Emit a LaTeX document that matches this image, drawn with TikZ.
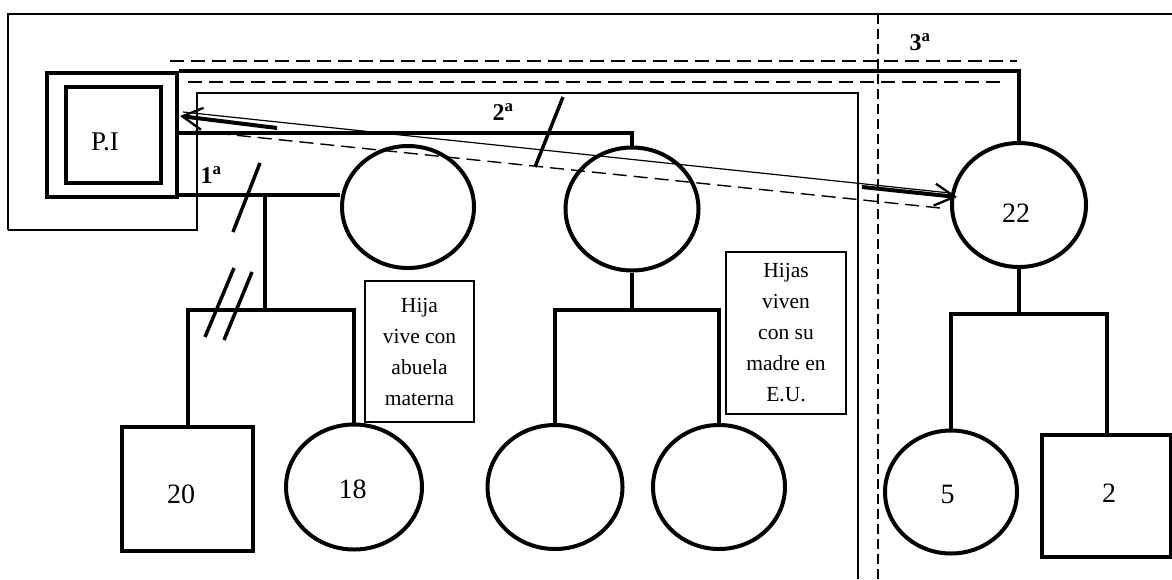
\documentclass[tikz,border=0pt]{standalone}
\usepackage{fontspec}
\setmainfont{Liberation Serif}
\usetikzlibrary{shapes.geometric,arrows.meta}
\begin{document}
\begin{tikzpicture}[x=1pt,y=-1pt,
  thickline/.style={line width=4pt},
  person/.style={draw,line width=4pt,inner sep=0pt},
  fem/.style={person,ellipse},
  male/.style={person,rectangle},
  frame/.style={line width=1.2pt},
  dashline/.style={line width=1.4pt,dash pattern=on 14pt off 7pt},
  vdash/.style={line width=1.4pt,dash pattern=on 10pt off 5pt},
  slash/.style={line width=3.5pt},
  note/.style={draw,line width=1.2pt,align=center,inner sep=0pt,font=\fontsize{21.5}{31}\selectfont},
  num/.style={font=\fontsize{28}{30}\selectfont,inner sep=0pt},
  ord/.style={font=\fontsize{24}{26}\selectfont\bfseries,inner sep=0pt},
  arr/.style={line width=4pt,-{Straight Barb[length=20pt,width=22pt,line width=2.3pt]}},
]
\useasboundingbox (0,0) rectangle (1172,579);
\fill[white] (0,0) rectangle (1172,579);

% frames
\draw[frame] (8,230) -- (8,14) -- (1172,14);
\draw[frame] (8,230) -- (197,230) -- (197,93) -- (858,93) -- (858,579);
\draw[vdash] (878,14) -- (878,579);
\draw[dashline] (170,61) -- (1017,61);
\draw[dashline] (188,82) -- (1005,82);

% persons
\node[male,minimum width=130pt,minimum height=124pt] (PIo) at (112,135) {};
\node[male,minimum width=95pt,minimum height=96pt] (PIi) at (113.5,135) {};
\node[num,font=\fontsize{27}{29}\selectfont] (PIt) at (105,142) {P.I};

\node[fem,minimum width=132pt,minimum height=122pt] (c1) at (408,207) {};
\node[fem,minimum width=133pt,minimum height=123pt] (c2) at (632,209) {};
\node[fem,minimum width=134pt,minimum height=124pt] (c22) at (1019,205) {};
\node[num] (t22) at (1016,213) {22};

\node[male,minimum width=131pt,minimum height=124pt] (s20) at (187.5,489) {};
\node[num] (t20) at (181,494) {20};
\node[fem,minimum width=136pt,minimum height=125pt] (c18) at (354,487) {};
\node[num] (t18) at (352.5,489) {18};
\node[fem,minimum width=135pt,minimum height=124pt] (c3) at (555,487) {};
\node[fem,minimum width=132pt,minimum height=124pt] (c4) at (719,487) {};
\node[fem,minimum width=132pt,minimum height=123pt] (c5) at (951,492) {};
\node[num] (t5) at (947.5,494) {5};
\node[male,minimum width=129pt,minimum height=122pt] (s2) at (1106.5,496) {};
\node[num] (t2) at (1109,493) {2};

% notes
\node[note,minimum width=109pt,minimum height=141pt] (b1) at (419.5,351.5) {Hija\\vive con\\abuela\\materna};
\node[note,minimum width=120pt,minimum height=162pt] (b2) at (786,333) {Hijas\\viven\\con su\\madre en\\E.U.};

% ordinal labels
\node[ord] (o1) at (211,175) {1\textsuperscript{a}};
\node[ord] (o2) at (503,112) {2\textsuperscript{a}};
\node[ord] (o3) at (920,42) {3\textsuperscript{a}};

% union 1
\coordinate (j1) at (0,195);
\coordinate (m1) at (265,195);
\coordinate (k1) at (265,310);
\draw[thickline] (PIo.east |- j1) -- (c1.west |- j1);
\draw[thickline] (m1) -- (k1);
\draw[thickline] (s20.north) |- (k1) -| (c18.north);
\draw[slash] (233,232) -- (260,163);
\draw[slash] (205,337) -- (234,268);
\draw[slash] (224,340) -- (252,272);

% union 2
\coordinate (j2) at (0,133);
\coordinate (k2) at (632,310);
\draw[thickline] (PIo.east |- j2) -| (c2.north);
\draw[thickline] (c2.south) -- (k2);
\draw[thickline] (c3.north) |- (k2) -| (c4.north);
\draw[slash] (535,167) -- (563,97);

% union 3
\coordinate (k3) at (1019,314);
\draw[thickline] (PIo.north east) -| (c22.north);
\draw[thickline] (c22.south) -- (k3);
\draw[thickline] (c5.north) |- (k3) -| (s2.north);

% relation arrows
\coordinate (aL) at (180,116);
\coordinate (aR) at (957,197);
\coordinate (tL) at (183,112);
\coordinate (tR) at (950,193);
\draw[frame] (tL) -- (tR);
\draw[arr] (277,128) -- (aL);
\draw[arr] (862,187) -- (aR);
\draw[line width=1.4pt,dash pattern=on 14pt off 7pt] (195,131) -- (940,208);
\end{tikzpicture}
\end{document}
